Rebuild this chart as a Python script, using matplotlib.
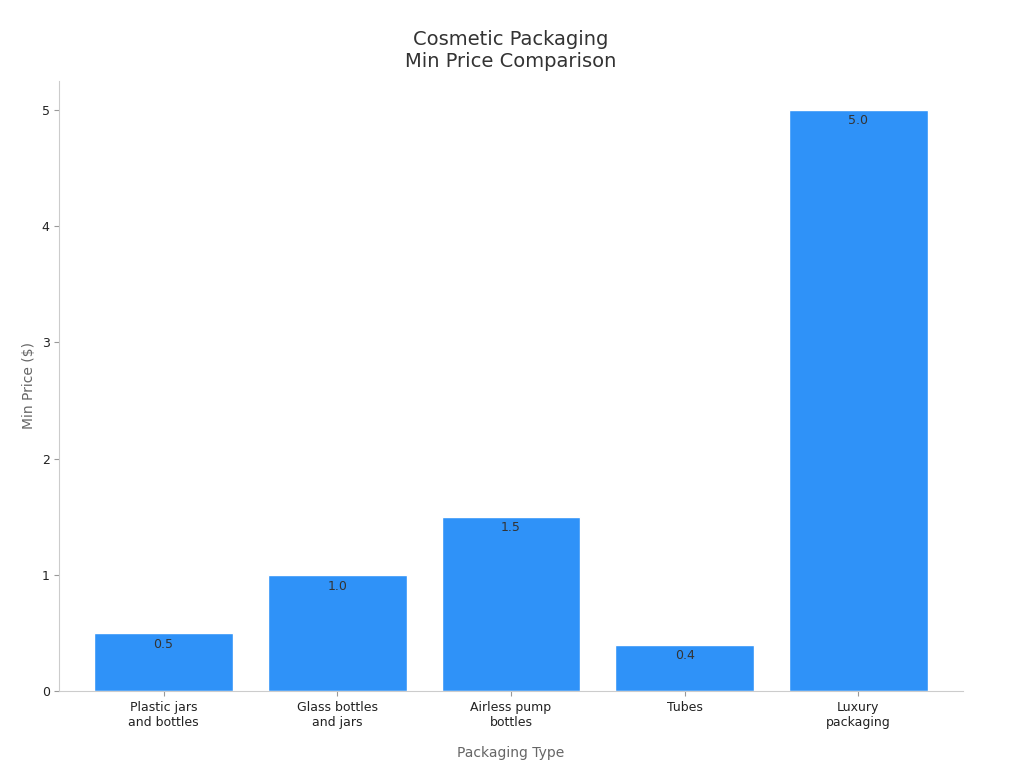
import matplotlib
matplotlib.use("Agg")
import matplotlib.pyplot as plt

categories = ["Plastic jars\nand bottles", "Glass bottles\nand jars", "Airless pump\nbottles", "Tubes", "Luxury\npackaging"]
values = [0.5, 1.0, 1.5, 0.4, 5.0]

plt.rcParams['font.family'] = ['DejaVu Sans']
fig, ax = plt.subplots(figsize=(10.24, 7.68), dpi=100)
fig.subplots_adjust(left=0.058, right=0.94, top=0.895, bottom=0.1)
x = range(len(categories))
bars = ax.bar(x, values, width=0.8, color="#2f92f8", edgecolor="white", linewidth=1)
for i, v in enumerate(values):
    ax.text(i, v - 0.04, f"{v:.1f}", ha="center", va="top", fontsize=9, color="#333333")
ax.set_xticks(list(x))
ax.set_xticklabels(categories, fontsize=9, color="#222222")
ax.set_xlim(-0.6, 4.6)
ax.set_ylim(0, 5.25)
ax.set_yticks([0, 1, 2, 3, 4, 5])
ax.tick_params(axis='y', labelsize=9, colors="#222222")
ax.tick_params(axis='both', color="#999999")
for s in ["top", "right"]:
    ax.spines[s].set_visible(False)
for s in ["left", "bottom"]:
    ax.spines[s].set_color("#cccccc")
ax.set_xlabel("Packaging Type", fontsize=10, color="#666666", labelpad=12)
ax.set_ylabel("Min Price ($)", fontsize=10, color="#666666")
ax.set_title("Cosmetic Packaging\nMin Price Comparison", fontsize=14, color="#333333", pad=10)
fig.savefig("out.png")
